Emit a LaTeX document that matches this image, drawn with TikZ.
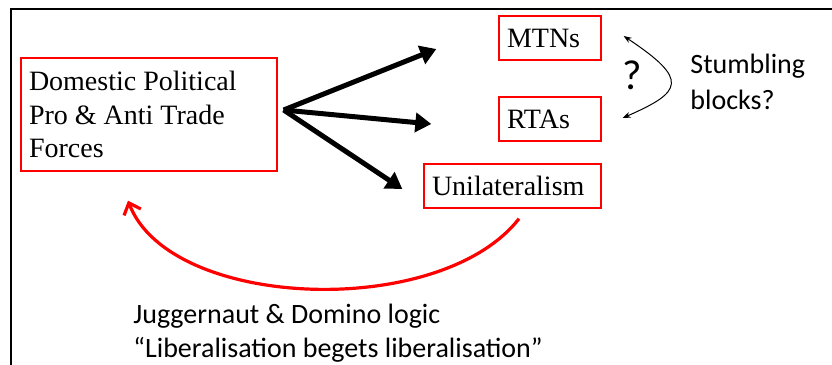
\documentclass[tikz,border=0pt]{standalone}
\usepackage{xcolor}
\usepackage{fontspec}
\setmainfont{Liberation Serif}
\newfontfamily\calib{Carlito}
\usetikzlibrary{arrows.meta}

\begin{document}
\begin{tikzpicture}[
    x=0.5pt, y=-0.5pt,
    entity/.style={draw=red, line width=0.65pt, inner xsep=4pt, minimum height=22pt, align=flush left, font=\fontsize{14}{16.75}\selectfont},
    note/.style={inner sep=0pt, align=left, font=\calib\fontsize{14}{17}\selectfont},
    fan/.style={line width=2.5pt, -{Triangle[length=8pt,width=9.5pt]}},
    backarc/.style={red, line width=1.6pt, -{Straight Barb[length=5pt,width=9pt]}},
    twoway/.style={line width=0.5pt, {Stealth[length=4pt,width=3pt]}-{Stealth[length=4pt,width=3pt]}}
]

\useasboundingbox (0,0) rectangle (832,365);
\draw[line width=1pt] (10.5,365) -- (10.5,9) -- (832,9);

\node[entity, text width=120pt, minimum height=56.5pt] (domestic) at (149,114.5) {
Domestic Political\\
Pro \& Anti Trade\\
Forces
};

\node[entity, text width=43pt] (mtns) at (550,38) {MTNs};
\node[entity, text width=43pt] (rtas) at (550,119) {RTAs};
\node[entity, text width=80.5pt] (unilat) at (512.5,186) {Unilateralism};

\node[inner sep=0pt, font=\calib\fontsize{21}{24}\selectfont] (qmark) at (632,75) {?};
\node[note, anchor=west, font=\calib\fontsize{14}{18}\selectfont] (stumble) at (690,82) {Stumbling\\blocks?};

\node[note, anchor=west] (logic) at (133,333) {
Juggernaut \& Domino logic\\
“Liberalisation begets liberalisation”
};

\coordinate (hub) at ([xshift=3pt,yshift=2.25pt]domestic.east);

\draw[fan] (hub) -- ([xshift=-31pt,yshift=-5.5pt]mtns.west);
\draw[fan] (hub) -- ([xshift=-33.5pt,yshift=-2.5pt]rtas.west);
\draw[fan] (hub) -- ([xshift=-10.5pt,yshift=-1.5pt]unilat.west);

\draw[twoway] ([xshift=11pt,yshift=1pt]mtns.east) .. controls (690,80) and (682,92) .. ([xshift=10.5pt,yshift=0.5pt]rtas.east);

\draw[backarc] ([xshift=3.25pt,yshift=-5pt]unilat.south) .. controls (440,320) and (170,310) .. ([xshift=-10.5pt,yshift=-14.5pt]domestic.south);

\end{tikzpicture}
\end{document}
